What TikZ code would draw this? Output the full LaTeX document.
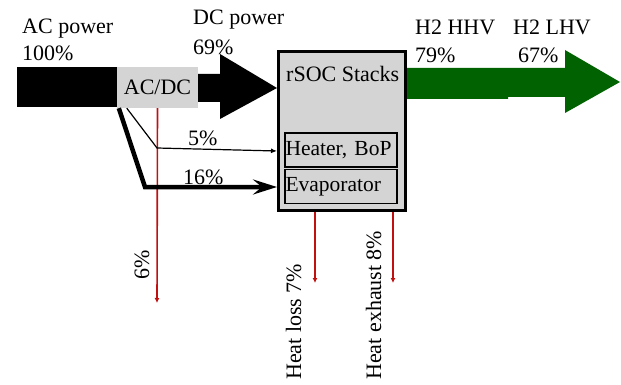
\documentclass[tikz,border=0pt]{standalone}
\usepackage{fontspec}
\setmainfont{Liberation Serif}
\usetikzlibrary{arrows.meta,calc}
\definecolor{boxgray}{RGB}{212,212,212}
\definecolor{hgreen}{RGB}{0,98,0}
\definecolor{heatred}{RGB}{192,16,16}
\begin{document}
\begin{tikzpicture}[x=1pt,y=-1pt,
  txt/.style={font=\fontsize{22}{24}\selectfont, inner sep=0pt, anchor=base west},
  inbox/.style={draw, line width=1.6pt, fill=boxgray, minimum height=34pt, text width=111pt,
     inner xsep=0.5pt, inner ysep=0pt, align=left, font=\fontsize{21.5}{24}\selectfont},
  heat/.style={draw=heatred, line width=1.6pt, -{Latex[length=5pt,width=5pt]}}]
\useasboundingbox (0,0) rectangle (621,385);
% AC power bar
\fill (17,67) rectangle (118,107);
\node[fill=boxgray, minimum width=81pt, minimum height=41pt, inner sep=0pt,
  font=\fontsize{22}{24}\selectfont] (acdc) at (157.5,87.5) {AC/DC};
% rSOC box
\node[draw, line width=3pt, fill=boxgray, minimum width=127pt, minimum height=159pt,
  inner sep=0pt] (rsoc) at (342,131) {};
\node[txt] (rsoclbl) at (286,82) {rSOC Stacks};
\node[inbox] (heater) at (341,150) {Heater, BoP};
\node[inbox] (evap) at (341,186.5) {Evaporator};
% DC arrow
\fill (acdc.east |- 0,74) -- (220,74) -- (220,54) -- (rsoc.west |- 0,88) -- (220,119)
  -- (220,102) -- (acdc.east |- 0,102) -- cycle;
% H2 arrow
\fill[hgreen] (rsoc.east |- 0,68) -- (565,68) -- (565,50) -- (620,82) -- (565,113)
  -- (565,97) -- (508,97) -- (508,99) -- (rsoc.east |- 0,99) -- cycle;
% heat losses
\coordinate (l1) at (157,303);
\coordinate (l2) at (315,283);
\coordinate (l3) at (393,283);
\draw[heat] (acdc.south) -- (l1);
\draw[heat] (rsoc.south -| l2) -- (l2);
\draw[heat] (rsoc.south -| l3) -- (l3);
% feed lines
\draw[line width=1.2pt, -{Latex[length=6pt,width=5pt]}]
  ($(acdc.south west)+(10,0)$) -- (157,148) -- (rsoc.west |- 0,151);
\draw[line width=4.5pt, line join=miter, -{Stealth[length=24pt,width=15pt,inset=9pt]}]
  ($(acdc.south west)+(2,0)$) -- (145,187) -- (rsoc.west |- 0,187);
% labels
\node[txt] (acp) at (22,34) {AC power};
\node[txt] (acv) at (22,61) {100\%};
\node[txt] (dcp) at (193,25) {DC power};
\node[txt] (dcv) at (193,55) {69\%};
\node[txt] (hhv) at (415,35) {H2 HHV};
\node[txt] (hhvv) at (415,63) {79\%};
\node[txt] (lhv) at (513,35) {H2 LHV};
\node[txt] (lhvv) at (518,63) {67\%};
\node[txt] (p5) at (188,146) {5\%};
\node[txt] (p16) at (183,184) {16\%};
\node[txt, rotate=90] (p6) at (149,280) {6\%};
\node[txt, rotate=90] (hl) at (301,380) {Heat loss 7\%};
\node[txt, rotate=90] (he) at (381,380) {Heat exhaust 8\%};
\end{tikzpicture}
\end{document}
